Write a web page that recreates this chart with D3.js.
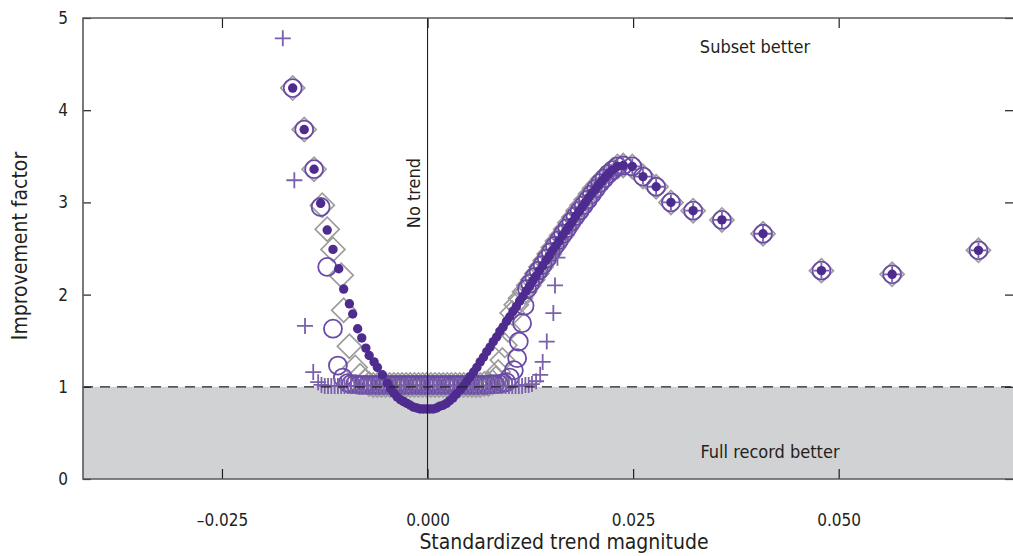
<!DOCTYPE html>
<html>
<head>
<meta charset="utf-8">
<script src="https://cdn.jsdelivr.net/npm/d3@7"></script>
<style>
  body { margin: 0; background: #fff; }
  svg text { font-family: "Liberation Sans Narrow", "DejaVu Sans Condensed", "Arial Narrow", sans-serif; fill: #231f20; }
</style>
</head>
<body>
<div id="chart"></div>
<script>
// tick values
const xTicks = [-0.025, 0, 0.025, 0.05];
const xTickLabels = ['\u20130.025', '0.000', '0.025', '0.050'];
const yTicks = [0, 1, 2, 3, 4, 5];

// points shared by every series near the peak and on the right tail
const peakTail = [[0.0231, 3.39], [0.0238, 3.40], [0.0249, 3.39], [0.0262, 3.28], [0.0278, 3.17],
  [0.0296, 3.00], [0.0323, 2.91], [0.0358, 2.81], [0.0408, 2.66], [0.0479, 2.26], [0.0565, 2.22], [0.0670, 2.48]];

// filled dots
const dotPts = [
  [-0.0164, 4.24], [-0.0150, 3.79], [-0.0138, 3.36], [-0.0130, 2.99], [-0.0122, 2.70], [-0.0115, 2.49],
  [-0.0108, 2.28], [-0.0102, 2.06], [-0.0095, 1.90], [-0.0091, 1.79], [-0.0085, 1.63], [-0.0080, 1.53],
  [-0.0075, 1.42], [-0.0071, 1.34], [-0.0065, 1.27], [-0.0061, 1.21], [-0.0055, 1.13], [-0.0049, 1.04],
  [-0.0045, 0.98], [-0.0041, 0.93], [-0.0037, 0.89], [-0.0033, 0.86], [-0.0029, 0.84], [-0.0025, 0.82],
  [-0.0021, 0.80], [-0.0017, 0.78], [-0.0013, 0.77], [-0.0009, 0.76], [-0.0005, 0.76], [-0.0001, 0.76],
  [0.0003, 0.76], [0.0007, 0.76], [0.0011, 0.77], [0.0015, 0.79], [0.0019, 0.80], [0.0023, 0.82],
  [0.0027, 0.85], [0.0031, 0.88], [0.0035, 0.92], [0.0040, 0.97], [0.0044, 1.01], [0.0048, 1.06],
  [0.0052, 1.11], [0.0056, 1.16], [0.0060, 1.21], [0.0064, 1.27], [0.0068, 1.32], [0.0072, 1.38],
  [0.0076, 1.43], [0.0080, 1.49], [0.0084, 1.54], [0.0088, 1.60], [0.0092, 1.65], [0.0096, 1.71],
  [0.0100, 1.76], [0.0104, 1.82], [0.0108, 1.87], [0.0112, 1.93], [0.0116, 1.98], [0.0120, 2.04],
  [0.0124, 2.09], [0.0128, 2.15], [0.0132, 2.20], [0.0136, 2.26], [0.0140, 2.31], [0.0144, 2.37],
  [0.0148, 2.42], [0.0152, 2.48], [0.0156, 2.53], [0.0160, 2.58], [0.0164, 2.64], [0.0168, 2.69],
  [0.0172, 2.74], [0.0176, 2.79], [0.0180, 2.85], [0.0184, 2.90], [0.0188, 2.95], [0.0192, 3.00],
  [0.0196, 3.05], [0.0200, 3.10], [0.0204, 3.14], [0.0208, 3.19], [0.0212, 3.23], [0.0216, 3.27],
  [0.0220, 3.31], [0.0225, 3.35]
].concat(peakTail);

// open circles
const circlePts = [
  [-0.0164, 4.24], [-0.0150, 3.79], [-0.0138, 3.36], [-0.0130, 2.95], [-0.0122, 2.30], [-0.0115, 1.63],
  [-0.0109, 1.23], [-0.0103, 1.10], [-0.0097, 1.04], [-0.0093, 1.03], [-0.0088, 1.03], [-0.0083, 1.02],
  [-0.0078, 1.02], [-0.0073, 1.02], [-0.0068, 1.02], [-0.0063, 1.02], [-0.0058, 1.02], [-0.0053, 1.02],
  [-0.0048, 1.02], [-0.0043, 1.02], [-0.0038, 1.02], [-0.0033, 1.02], [-0.0028, 1.02], [-0.0023, 1.02],
  [-0.0018, 1.02], [-0.0013, 1.02], [-0.0008, 1.02], [-0.0003, 1.02], [0.0002, 1.02], [0.0007, 1.02],
  [0.0012, 1.02], [0.0017, 1.02], [0.0022, 1.02], [0.0027, 1.02], [0.0032, 1.02], [0.0037, 1.02],
  [0.0042, 1.02], [0.0047, 1.02], [0.0052, 1.02], [0.0057, 1.02], [0.0062, 1.02], [0.0067, 1.02],
  [0.0072, 1.02], [0.0077, 1.03], [0.0082, 1.03], [0.0087, 1.03], [0.0092, 1.04], [0.0096, 1.05],
  [0.0100, 1.10], [0.0105, 1.18], [0.0109, 1.31], [0.0111, 1.49], [0.0115, 1.69], [0.0118, 1.88],
  [0.0121, 2.06], [0.0125, 2.12], [0.0130, 2.19], [0.0135, 2.26], [0.0140, 2.32], [0.0145, 2.39],
  [0.0150, 2.46], [0.0155, 2.53], [0.0160, 2.59], [0.0165, 2.66], [0.0170, 2.72], [0.0175, 2.79],
  [0.0180, 2.85], [0.0185, 2.91], [0.0190, 2.97], [0.0195, 3.03], [0.0200, 3.09], [0.0205, 3.15],
  [0.0210, 3.21], [0.0215, 3.26], [0.0220, 3.31], [0.0225, 3.35]
].concat(peakTail);

// open diamonds
const diamondPts = [
  [-0.0164, 4.24], [-0.0150, 3.79], [-0.0138, 3.36], [-0.0128, 2.97], [-0.0122, 2.71], [-0.0115, 2.49],
  [-0.0105, 2.21], [-0.0102, 1.83], [-0.0095, 1.44], [-0.0088, 1.21], [-0.0082, 1.12], [-0.0076, 1.06],
  [-0.0071, 1.03], [-0.0066, 1.02], [-0.0061, 1.02], [-0.0056, 1.02], [-0.0051, 1.02], [-0.0046, 1.02],
  [-0.0041, 1.02], [-0.0036, 1.02], [-0.0031, 1.02], [-0.0026, 1.02], [-0.0021, 1.02], [-0.0016, 1.02],
  [-0.0011, 1.02], [-0.0006, 1.02], [-0.0001, 1.02], [0.0004, 1.02], [0.0009, 1.02], [0.0014, 1.02],
  [0.0019, 1.02], [0.0024, 1.02], [0.0029, 1.02], [0.0034, 1.02], [0.0039, 1.02], [0.0044, 1.02],
  [0.0049, 1.02], [0.0054, 1.02], [0.0059, 1.02], [0.0064, 1.02], [0.0069, 1.03], [0.0074, 1.03],
  [0.0079, 1.05], [0.0083, 1.09], [0.0086, 1.16], [0.0091, 1.29], [0.0094, 1.45], [0.0098, 1.62],
  [0.0103, 1.80], [0.0108, 1.89], [0.0113, 1.96], [0.0118, 2.03], [0.0123, 2.10], [0.0128, 2.16],
  [0.0133, 2.23], [0.0138, 2.30], [0.0143, 2.37], [0.0148, 2.44], [0.0153, 2.51], [0.0158, 2.58],
  [0.0163, 2.64], [0.0168, 2.71], [0.0173, 2.78], [0.0178, 2.84], [0.0183, 2.91], [0.0188, 2.97],
  [0.0193, 3.03], [0.0198, 3.09], [0.0203, 3.15], [0.0208, 3.20], [0.0213, 3.25], [0.0218, 3.29],
  [0.0225, 3.35]
].concat(peakTail);

// plus signs
const plusPts = [
  [-0.0176, 4.78], [-0.0162, 3.24], [-0.0149, 1.66], [-0.0139, 1.16], [-0.0133, 1.05], [-0.0129, 1.02],
  [-0.0125, 1.01], [-0.0121, 1.01], [-0.0117, 1.01], [-0.0113, 1.01], [-0.0109, 1.01], [-0.0105, 1.01],
  [-0.0101, 1.01], [-0.0097, 1.01], [-0.0093, 1.01], [-0.0089, 1.01], [-0.0085, 1.01], [-0.0081, 1.01],
  [-0.0077, 1.01], [-0.0073, 1.01], [-0.0069, 1.01], [-0.0065, 1.01], [-0.0061, 1.01], [-0.0057, 1.01],
  [-0.0053, 1.01], [-0.0049, 1.01], [-0.0045, 1.01], [-0.0041, 1.01], [-0.0037, 1.01], [-0.0033, 1.01],
  [-0.0029, 1.01], [-0.0025, 1.01], [-0.0021, 1.01], [-0.0017, 1.01], [-0.0013, 1.01], [-0.0009, 1.01],
  [-0.0005, 1.01], [-0.0001, 1.01], [0.0003, 1.01], [0.0007, 1.01], [0.0011, 1.01], [0.0015, 1.01],
  [0.0019, 1.01], [0.0023, 1.01], [0.0027, 1.01], [0.0031, 1.01], [0.0035, 1.01], [0.0039, 1.01],
  [0.0043, 1.01], [0.0047, 1.01], [0.0051, 1.01], [0.0055, 1.01], [0.0059, 1.01], [0.0063, 1.01],
  [0.0067, 1.01], [0.0071, 1.01], [0.0075, 1.01], [0.0079, 1.01], [0.0083, 1.01], [0.0087, 1.01],
  [0.0091, 1.01], [0.0095, 1.01], [0.0099, 1.01], [0.0103, 1.01], [0.0107, 1.01], [0.0111, 1.01],
  [0.0115, 1.01], [0.0119, 1.02], [0.0123, 1.02], [0.0127, 1.03], [0.0132, 1.06], [0.0137, 1.13],
  [0.0140, 1.27], [0.0145, 1.49], [0.0153, 1.80], [0.0155, 2.10], [0.0158, 2.40], [0.0162, 2.60],
  [0.0167, 2.67], [0.0172, 2.74], [0.0177, 2.80], [0.0182, 2.87], [0.0187, 2.93], [0.0192, 3.00],
  [0.0197, 3.06], [0.0202, 3.12], [0.0207, 3.17], [0.0212, 3.22], [0.0217, 3.27], [0.0222, 3.32],
  [0.0227, 3.36]
].concat(peakTail);

const width = 1013;
const height = 556;
const plot = { left: 83, right: 1013, top: 18, bottom: 479 };

const svg = d3.select('#chart').append('svg')
  .attr('width', width)
  .attr('height', height);

const x = d3.scaleLinear().domain([-0.0419, 0.0712]).range([plot.left, plot.right]);
const y = d3.scaleLinear().domain([0, 5]).range([plot.bottom, plot.top]);

// shaded region below 1
svg.append('rect')
  .attr('x', plot.left).attr('y', y(1))
  .attr('width', plot.right - plot.left).attr('height', y(0) - y(1))
  .attr('fill', '#d1d2d4');

// markers
const diamond = d3.symbol(d3.symbolSquare, 290);
svg.append('g').selectAll('path').data(diamondPts).join('path')
  .attr('d', diamond)
  .attr('transform', d => `translate(${x(d[0])},${y(d[1])}) rotate(45)`)
  .attr('fill', 'none').attr('stroke', '#9d9d9f').attr('stroke-width', 1.7);

svg.append('g').selectAll('circle').data(circlePts).join('circle')
  .attr('cx', d => x(d[0])).attr('cy', d => y(d[1])).attr('r', 9)
  .attr('fill', 'none').attr('stroke', '#6b4aa7').attr('stroke-width', 1.8);

svg.append('g').selectAll('path').data(plusPts).join('path')
  .attr('d', 'M-8,0H8M0,-8V8')
  .attr('transform', d => `translate(${x(d[0])},${y(d[1])})`)
  .attr('fill', 'none').attr('stroke', '#7a60aa').attr('stroke-width', 1.8);

svg.append('g').selectAll('circle').data(dotPts).join('circle')
  .attr('cx', d => x(d[0])).attr('cy', d => y(d[1])).attr('r', 4.7)
  .attr('fill', '#4e2b8f');

// reference lines
svg.append('line')
  .attr('x1', plot.left).attr('x2', plot.right)
  .attr('y1', y(1)).attr('y2', y(1))
  .attr('stroke', '#231f20').attr('stroke-width', 1.2).attr('stroke-dasharray', '10,7');

svg.append('line')
  .attr('x1', x(0)).attr('x2', x(0))
  .attr('y1', plot.top).attr('y2', plot.bottom)
  .attr('stroke', '#231f20').attr('stroke-width', 1.1);

// axes, ticks pointing inward
const yAxis = d3.axisLeft(y).tickValues(yTicks).tickSize(-8).tickPadding(15).tickFormat(d3.format('d'));
const yAxisRight = d3.axisRight(y).tickValues(yTicks).tickSize(-8).tickFormat('');
const xAxis = d3.axisBottom(x).tickValues(xTicks).tickSize(-10).tickPadding(35)
  .tickFormat((d, i) => xTickLabels[i]);
const xAxisTop = d3.axisTop(x).tickValues(xTicks).tickSize(-10).tickFormat('');

const gy = svg.append('g').attr('transform', `translate(${plot.left},0)`).call(yAxis);
const gyr = svg.append('g').attr('transform', `translate(${plot.right},0)`).call(yAxisRight);
const gx = svg.append('g').attr('transform', `translate(0,${plot.bottom})`).call(xAxis);
const gxt = svg.append('g').attr('transform', `translate(0,${plot.top})`).call(xAxisTop);

[gy, gyr, gx, gxt].forEach(g => {
  g.select('.domain').remove();
  g.selectAll('.tick line').attr('stroke', '#231f20').attr('stroke-width', 1.2);
  g.selectAll('.tick text').attr('font-size', 17).attr('fill', '#231f20');
});

// frame
svg.append('path')
  .attr('d', `M${plot.right},${plot.top}H${plot.left}V${plot.bottom}H${plot.right}`)
  .attr('fill', 'none').attr('stroke', '#58595b').attr('stroke-width', 1.6);

// annotations
svg.append('text').attr('x', 755).attr('y', 53).attr('text-anchor', 'middle')
  .attr('font-size', 18).text('Subset better');
svg.append('text').attr('x', 770).attr('y', 458).attr('text-anchor', 'middle')
  .attr('font-size', 18).text('Full record better');
svg.append('text')
  .attr('transform', `translate(${x(0) - 8},193) rotate(-90)`)
  .attr('text-anchor', 'middle').attr('font-size', 18).text('No trend');

// axis titles
svg.append('text').attr('x', 564).attr('y', 549).attr('text-anchor', 'middle')
  .attr('font-size', 21).text('Standardized trend magnitude');
svg.append('text')
  .attr('transform', `translate(27,246) rotate(-90)`)
  .attr('text-anchor', 'middle').attr('font-size', 21).text('Improvement factor');
</script>
</body>
</html>
